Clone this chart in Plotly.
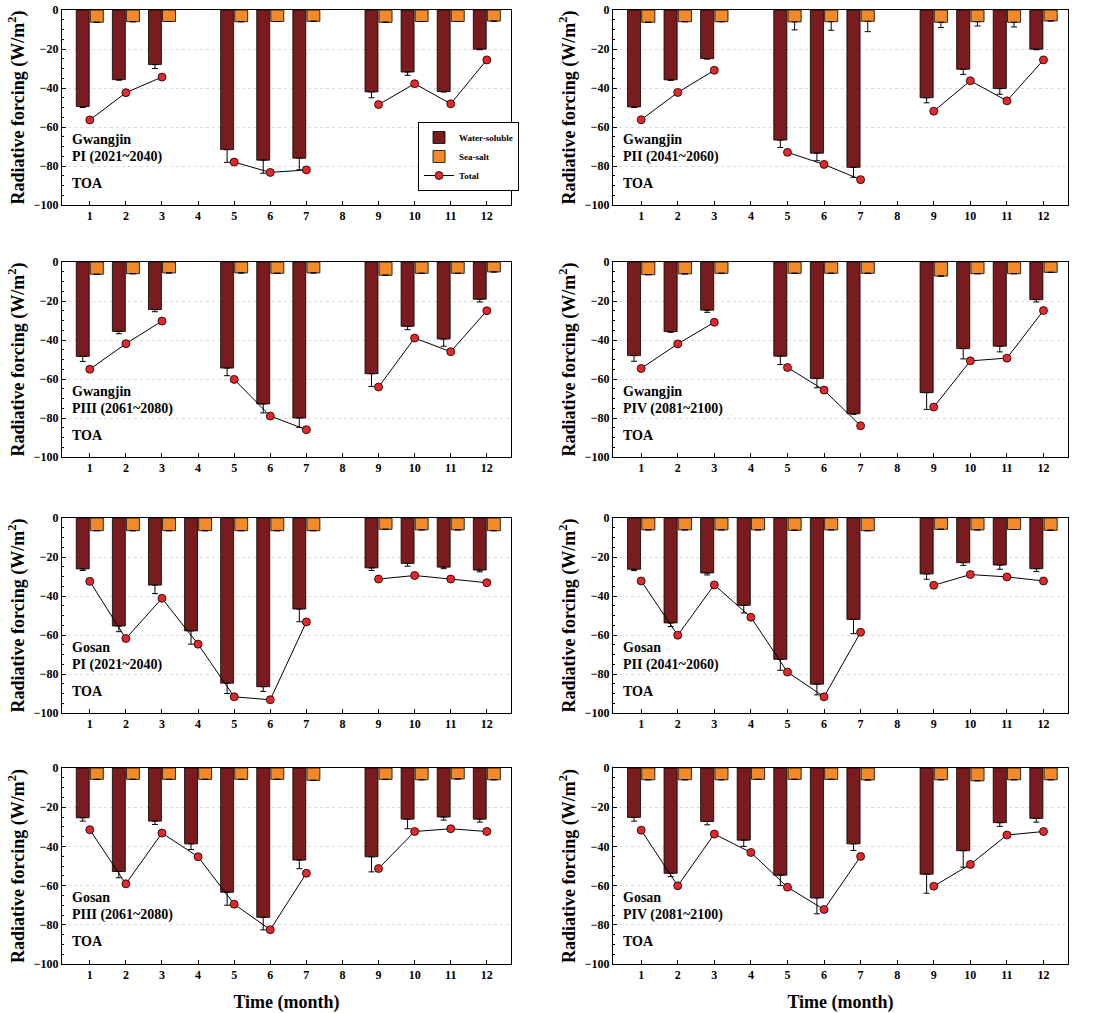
import plotly.graph_objects as go

months = [1, 2, 3, 4, 5, 6, 7, 8, 9, 10, 11, 12]
month_labels = ["1", "2", "3", "4", "5", "6", "7", "8", "9", "10", "11", "12"]
N = None

# ---- Gwangjin ----
gj_pi_ws = [-49.5, -35.7, -28.0, N, -71.6, -77.0, -76.0, N, -42.0, -31.8, -41.8, -20.1]
gj_pi_ws_err = [0.5, 0.3, 2.0, N, 6.5, 6.7, 6.0, N, 3.0, 1.7, 0.3, 0.3]
gj_pi_ss = [-6.3, -6.0, -5.9, N, -6.0, -5.9, -5.8, N, -6.3, -5.9, -5.9, -5.7]
gj_pi_ss_err = [0, 0, 0, N, 0, 0, 0, N, 0, 0, 0, 0]
gj_pi_tot = [-56.4, -42.4, -34.4, N, -78.0, -83.3, -82.0, N, -48.5, -37.8, -48.1, -25.6]

gj_pii_ws = [-49.7, -35.8, -24.9, N, -66.7, -73.4, -80.7, N, -45.0, -30.4, -40.3, -20.1]
gj_pii_ws_err = [0.3, 0.3, 0.3, N, 3.8, 3.9, 5.1, N, 2.6, 2.6, 2.9, 0.3]
gj_pii_ss = [-6.3, -6.0, -6.0, N, -6.1, -6.0, -5.8, N, -6.3, -6.0, -6.3, -5.6]
gj_pii_ss_err = [0, 0, 0, N, 4.1, 4.4, 5.3, N, 2.7, 2.2, 2.4, 0]
gj_pii_tot = [-56.3, -42.3, -30.9, N, -73.0, -79.2, -87.0, N, -51.9, -36.3, -46.6, -25.6]

gj_piii_ws = [-48.4, -35.6, -24.4, N, -54.4, -72.8, -80.0, N, -57.3, -33.0, -39.5, -19.1]
gj_piii_ws_err = [2.6, 1.2, 1.1, N, 3.9, 4.6, 4.8, N, 6.5, 1.7, 3.7, 1.4]
gj_piii_ss = [-6.3, -6.0, -5.6, N, -5.6, -5.8, -5.6, N, -6.8, -5.8, -5.8, -5.1]
gj_piii_ss_err = [0, 0, 0, N, 0, 0, 0, N, 0, 0, 0, 0]
gj_piii_tot = [-55.0, -41.9, -30.3, N, -60.2, -79.0, -86.0, N, -64.1, -39.0, -46.0, -25.0]

gj_piv_ws = [-48.0, -35.7, -24.7, N, -48.3, -59.7, -77.8, N, -67.0, -44.4, -43.2, -19.3]
gj_piv_ws_err = [2.9, 0.3, 1.1, N, 4.3, 4.8, 0.3, N, 8.6, 5.3, 2.9, 1.2]
gj_piv_ss = [-6.5, -6.1, -5.8, N, -5.8, -5.8, -5.8, N, -7.2, -6.0, -6.0, -5.3]
gj_piv_ss_err = [0, 0, 0, N, 0, 0, 0, N, 0, 0, 0, 0]
gj_piv_tot = [-54.6, -42.0, -30.9, N, -54.1, -65.7, -84.0, N, -74.4, -50.7, -49.3, -24.9]

# ---- Gosan ----
gs_pi_ws = [-26.1, -55.4, -34.4, -57.9, -84.7, -86.5, -46.7, N, -25.6, -23.3, -25.2, -26.7]
gs_pi_ws_err = [0.8, 2.9, 4.4, 6.8, 5.3, 2.4, 6.5, N, 1.3, 1.4, 0.8, 0.9]
gs_pi_ss = [-6.5, -6.5, -6.5, -6.5, -6.5, -6.5, -6.5, N, -5.8, -6.1, -6.1, -6.5]
gs_pi_ss_err = [0, 0, 0, 0, 0, 0, 0, N, 0, 0, 0, 0]
gs_pi_tot = [-32.5, -61.8, -41.2, -64.7, -91.7, -93.2, -53.3, N, -31.3, -29.5, -31.3, -33.2]

gs_pii_ws = [-26.3, -53.8, -28.2, -44.8, -72.5, -85.2, -52.0, N, -28.7, -22.9, -24.1, -26.0]
gs_pii_ws_err = [0.7, 1.9, 1.0, 3.9, 5.6, 5.5, 7.3, N, 2.7, 1.4, 2.2, 1.5]
gs_pii_ss = [-6.1, -6.1, -6.1, -6.1, -6.3, -6.1, -6.5, N, -5.8, -6.1, -5.9, -6.3]
gs_pii_ss_err = [0, 0, 0, 0, 0, 0, 0, N, 0, 0, 0, 0]
gs_pii_tot = [-32.3, -60.1, -34.3, -50.9, -79.0, -91.7, -58.6, N, -34.5, -29.0, -30.2, -32.3]

gs_piii_ws = [-25.4, -52.8, -27.1, -38.7, -63.4, -76.2, -47.0, N, -45.3, -26.1, -25.0, -26.1]
gs_piii_ws_err = [1.7, 3.2, 1.7, 2.9, 6.6, 6.4, 4.4, N, 7.7, 4.9, 1.6, 1.5]
gs_piii_ss = [-5.8, -5.8, -5.8, -5.8, -5.8, -5.8, -6.3, N, -5.8, -6.0, -5.6, -6.0]
gs_piii_ss_err = [0, 0, 0, 0, 0, 0, 0, N, 0, 0, 0, 0]
gs_piii_tot = [-31.5, -59.1, -33.2, -45.3, -69.5, -82.5, -53.7, N, -51.3, -32.4, -31.0, -32.4]

gs_piv_ws = [-25.2, -53.7, -27.3, -36.8, -54.7, -66.3, -38.7, N, -54.2, -42.2, -27.9, -25.7]
gs_piv_ws_err = [1.9, 1.7, 1.7, 3.2, 5.3, 8.1, 3.4, N, 9.7, 8.4, 1.9, 1.9]
gs_piv_ss = [-6.0, -6.0, -6.0, -5.8, -5.8, -5.8, -6.1, N, -6.0, -6.5, -6.0, -6.0]
gs_piv_ss_err = [0, 0, 0, 0, 0, 0, 0, N, 0, 0, 0, 0]
gs_piv_tot = [-31.7, -60.1, -33.7, -43.1, -60.8, -72.2, -45.1, N, -60.3, -49.2, -34.2, -32.4]

site_names = ["Gwangjin", "Gwangjin", "Gwangjin", "Gwangjin", "Gosan", "Gosan", "Gosan", "Gosan"]
period_names = ["PI (2021~2040)", "PII (2041~2060)", "PIII (2061~2080)", "PIV (2081~2100)",
                "PI (2021~2040)", "PII (2041~2060)", "PIII (2061~2080)", "PIV (2081~2100)"]

panels = [
    (gj_pi_ws, gj_pi_ws_err, gj_pi_ss, gj_pi_ss_err, gj_pi_tot),
    (gj_pii_ws, gj_pii_ws_err, gj_pii_ss, gj_pii_ss_err, gj_pii_tot),
    (gj_piii_ws, gj_piii_ws_err, gj_piii_ss, gj_piii_ss_err, gj_piii_tot),
    (gj_piv_ws, gj_piv_ws_err, gj_piv_ss, gj_piv_ss_err, gj_piv_tot),
    (gs_pi_ws, gs_pi_ws_err, gs_pi_ss, gs_pi_ss_err, gs_pi_tot),
    (gs_pii_ws, gs_pii_ws_err, gs_pii_ss, gs_pii_ss_err, gs_pii_tot),
    (gs_piii_ws, gs_piii_ws_err, gs_piii_ss, gs_piii_ss_err, gs_piii_tot),
    (gs_piv_ws, gs_piv_ws_err, gs_piv_ss, gs_piv_ss_err, gs_piv_tot),
]

WS_COLOR = "#7a1b1d"
SS_COLOR = "#f28a2a"
TOT_COLOR = "#e8262b"
FONT = "Liberation Serif"

W, H = 1099, 1013
col_px = [(62, 511), (613, 1068)]
row_px = [(10, 205), (262, 457), (518, 713), (768, 964)]

fig = go.Figure()
layout = dict(
    width=W, height=H, margin=dict(l=0, r=0, t=0, b=0, autoexpand=False),
    paper_bgcolor="white", plot_bgcolor="white",
    barmode="group", bargap=0.22, bargroupgap=0.08,
    font=dict(family=FONT, color="black"),
    showlegend=True,
    legend=dict(x=418 / W, y=1 - 122 / H, xanchor="left", yanchor="top",
                bgcolor="white", bordercolor="black", borderwidth=1,
                font=dict(family=FONT, size=9, color="black", weight="bold"),
                tracegroupgap=0, itemwidth=30),
)
annotations = []

for i, (ws, ws_err, ss, ss_err, tot) in enumerate(panels):
    r = i // 2
    c = i % 2
    idx = i + 1
    xa = "x" if idx == 1 else f"x{idx}"
    ya = "y" if idx == 1 else f"y{idx}"
    xkey = "xaxis" if idx == 1 else f"xaxis{idx}"
    ykey = "yaxis" if idx == 1 else f"yaxis{idx}"
    first = (i == 0)

    fig.add_trace(go.Bar(
        x=months, y=ws, name="Water-soluble", xaxis=xa, yaxis=ya,
        marker=dict(color=WS_COLOR, line=dict(color="black", width=0.8)),
        error_y=dict(type="data", symmetric=False,
                     array=[0 if v is not None else None for v in ws_err],
                     arrayminus=ws_err, color="black", thickness=1, width=3),
        showlegend=first, legendgroup="ws", offsetgroup="ws",
    ))
    fig.add_trace(go.Bar(
        x=months, y=ss, name="Sea-salt", xaxis=xa, yaxis=ya,
        marker=dict(color=SS_COLOR, line=dict(color="black", width=0.8)),
        error_y=dict(type="data", symmetric=False,
                     array=[0 if v is not None else None for v in ss_err],
                     arrayminus=ss_err, color="black", thickness=1, width=3),
        showlegend=first, legendgroup="ss", offsetgroup="ss",
    ))
    fig.add_trace(go.Scatter(
        x=months, y=tot, name="Total", xaxis=xa, yaxis=ya, mode="lines+markers",
        line=dict(color="black", width=1), connectgaps=False,
        marker=dict(color=TOT_COLOR, size=8, line=dict(color="black", width=0.8)),
        showlegend=first, legendgroup="tot",
    ))

    x0, x1 = col_px[c]
    yt, yb = row_px[r]
    xaxis = dict(
        domain=[x0 / W, x1 / W], anchor=ya, range=[0.23, 12.67],
        tickmode="array", tickvals=months, ticktext=month_labels,
        ticks="inside", ticklen=4, tickcolor="black",
        tickfont=dict(family=FONT, size=12, color="black", weight="bold"),
        showline=True, linecolor="black", linewidth=1, mirror=True,
        showgrid=False, zeroline=False, fixedrange=True, automargin=False,
    )
    if r == 3:
        xaxis["title"] = dict(text="Time (month)", standoff=14,
                              font=dict(family=FONT, size=18, color="black", weight="bold"))
    layout[xkey] = xaxis
    layout[ykey] = dict(
        domain=[1 - yb / H, 1 - yt / H], anchor=xa, range=[-100, 0],
        tickmode="linear", tick0=0, dtick=20,
        ticks="inside", ticklen=4, tickcolor="black",
        minor=dict(dtick=5, ticks="inside", ticklen=2, tickcolor="black", showgrid=False),
        tickfont=dict(family=FONT, size=12, color="black", weight="bold"),
        showline=True, linecolor="black", linewidth=1, mirror=True,
        showgrid=True, gridcolor="#dcdcdc", griddash="dot", gridwidth=1,
        zeroline=False, fixedrange=True, automargin=False,
        title=dict(text="Radiative forcing (W/m<sup>2</sup>)", standoff=4,
                   font=dict(family=FONT, size=18, color="black", weight="bold")),
    )

    tx = 8 / (x1 - x0)
    ph = yb - yt
    for txt, py in ((site_names[i], 129), (period_names[i], 147), ("TOA", 173)):
        annotations.append(dict(
            text=f"<b>{txt}</b>", xref=f"{xa} domain", yref=f"{ya} domain",
            x=tx, y=1 - py / ph, xanchor="left", yanchor="middle",
            showarrow=False, font=dict(family=FONT, size=14, color="black"),
        ))

layout["annotations"] = annotations
fig.update_layout(**layout)
fig.write_html("out.html", config={"displayModeBar": False},
               post_script="document.body.style.margin='0px';document.body.style.overflow='hidden';")
